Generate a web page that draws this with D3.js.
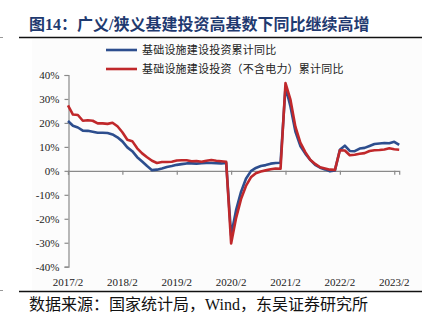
<!DOCTYPE html>
<html>
<head>
<meta charset="utf-8">
<script src="https://cdn.jsdelivr.net/npm/d3@7"></script>
<style>
html,body{margin:0;padding:0;background:#fff;}
svg{display:block;}
</style>
</head>
<body>
<svg id="chart" width="432" height="334"></svg>
<script>
const categories = [
"2017/2","2017/3","2017/4","2017/5","2017/6","2017/7","2017/8","2017/9","2017/10","2017/11","2017/12",
"2018/2","2018/3","2018/4","2018/5","2018/6","2018/7","2018/8","2018/9","2018/10","2018/11","2018/12",
"2019/2","2019/3","2019/4","2019/5","2019/6","2019/7","2019/8","2019/9","2019/10","2019/11","2019/12",
"2020/2","2020/3","2020/4","2020/5","2020/6","2020/7","2020/8","2020/9","2020/10","2020/11","2020/12",
"2021/2","2021/3","2021/4","2021/5","2021/6","2021/7","2021/8","2021/9","2021/10","2021/11","2021/12",
"2022/2","2022/3","2022/4","2022/5","2022/6","2022/7","2022/8","2022/9","2022/10","2022/11","2022/12",
"2023/2","2023/3"];

const broadInfra = [
20.8,18.8,18.1,16.8,16.7,16.3,15.9,15.9,15.8,15.2,14.0,
12.3,9.8,8.2,5.7,3.9,2.0,0.3,0.5,1.0,1.6,2.0,
2.5,2.8,3.1,3.1,3.0,3.2,3.3,3.3,3.2,3.1,3.3,
-26.9,-16.4,-8.8,-3.3,-0.1,1.2,2.0,2.4,3.0,3.3,3.4,
35.0,26.9,16.4,10.4,7.2,4.6,2.5,1.3,0.6,-0.2,0.2,
8.8,10.5,8.3,8.2,9.3,9.6,10.4,11.2,11.4,11.6,11.5,
12.1,10.8];

const narrowInfra = [
27.3,23.5,23.3,20.9,21.1,20.9,19.8,19.8,19.6,20.1,18.6,
16.1,13.0,12.4,9.4,7.3,5.7,4.2,3.3,3.7,3.7,3.8,
4.3,4.4,4.4,4.0,4.1,3.8,4.2,4.5,4.2,4.0,3.8,
-30.3,-19.7,-11.8,-6.3,-2.7,-1.0,-0.3,0.2,0.7,1.0,0.9,
36.6,29.7,18.4,11.8,7.8,4.6,2.9,1.5,1.0,0.5,0.4,
8.6,8.5,6.5,6.7,7.1,7.4,8.3,8.6,8.7,8.9,9.4,
9.0,8.8];

const xTickLabels = ["2017/2","2018/2","2019/2","2020/2","2021/2","2022/2","2023/2"];
const yTicks = [-40,-30,-20,-10,0,10,20,30,40];
const seriesNames = ["基础设施建设投资累计同比","基础设施建设投资（不含电力）累计同比"];
const titleText = "图14：广义/狭义基建投资高基数下同比继续高增";
const sourceText = "数据来源：国家统计局，Wind，东吴证券研究所";

const svg = d3.select("#chart");
const serif = "'Liberation Serif','Times New Roman','Noto Sans CJK SC',serif";
const blue = "#2D4E8E", red = "#C0282B", axisCol = "#8a8a8a";

// faint chart panel
svg.append("rect").attr("x",32).attr("y",39).attr("width",390).attr("height",251).attr("fill","#fcfcfc");

// title
svg.append("text").attr("x",29).attr("y",30)
  .attr("font-family",serif).attr("font-weight","bold").attr("font-size",16)
  .attr("fill","#1F3A70").text(titleText);

// rules
svg.append("line").attr("x1",19).attr("x2",422).attr("y1",37.5).attr("y2",37.5).attr("stroke","#111").attr("stroke-width",1.6);
svg.append("line").attr("x1",19).attr("x2",422).attr("y1",291.5).attr("y2",291.5).attr("stroke","#111").attr("stroke-width",1.6);
svg.append("line").attr("x1",0).attr("x2",3).attr("y1",37.5).attr("y2",37.5).attr("stroke","#999").attr("stroke-width",1);
svg.append("line").attr("x1",0).attr("x2",3).attr("y1",290.5).attr("y2",290.5).attr("stroke","#999").attr("stroke-width",1);

// source
svg.append("text").attr("x",29).attr("y",310)
  .attr("font-family",serif).attr("font-size",16).attr("fill","#111").text(sourceText);

const x = d3.scalePoint().domain(categories).range([68, 399.2]);
const y = d3.scaleLinear().domain([-40,40]).range([266.7, 75]);

// y axis
const yAxis = d3.axisLeft(y).tickValues(yTicks).tickSize(4).tickPadding(5).tickFormat(d => d + "%");
const gy = svg.append("g").attr("transform","translate(68.5,0)").call(yAxis);
gy.select(".domain").attr("stroke",axisCol).attr("stroke-width",1.2);
gy.selectAll(".tick line").attr("stroke",axisCol).attr("stroke-width",1.2);
gy.selectAll("text").attr("font-family",serif).attr("font-size",11).attr("fill","#222");

// x axis at zero line
const xAxis = d3.axisBottom(x).tickValues(xTickLabels).tickSize(4).tickFormat("");
const gx = svg.append("g").attr("transform",`translate(0,${y(0)})`).call(xAxis);
gx.select(".domain").attr("stroke",axisCol).attr("stroke-width",1.2);
gx.selectAll(".tick line").attr("stroke",axisCol).attr("stroke-width",1.2);

// x labels at bottom
svg.append("g").selectAll("text").data(xTickLabels).join("text")
  .attr("x", d => x(d)).attr("y", 286)
  .attr("text-anchor","middle").attr("font-family",serif).attr("font-size",11).attr("fill","#222")
  .text(d => d);

// lines
const line = d3.line().x((d,i) => x(categories[i])).y(d => y(d));
svg.append("path").datum(broadInfra).attr("d",line).attr("fill","none")
  .attr("stroke",blue).attr("stroke-width",2.6).attr("stroke-linejoin","round");
svg.append("path").datum(narrowInfra).attr("d",line).attr("fill","none")
  .attr("stroke",red).attr("stroke-width",2.6).attr("stroke-linejoin","round");

// legend
const legend = [{name:seriesNames[0], c:blue, y:50},{name:seriesNames[1], c:red, y:69}];
const lg = svg.append("g");
lg.selectAll("line").data(legend).join("line")
  .attr("x1",106).attr("x2",137).attr("y1",d=>d.y).attr("y2",d=>d.y)
  .attr("stroke",d=>d.c).attr("stroke-width",2.6);
lg.selectAll("text").data(legend).join("text")
  .attr("x",142).attr("y",d=>d.y+4)
  .attr("font-family",serif).attr("font-size",11).attr("letter-spacing",0.2).attr("fill","#222")
  .text(d=>d.name);
</script>
</body>
</html>
